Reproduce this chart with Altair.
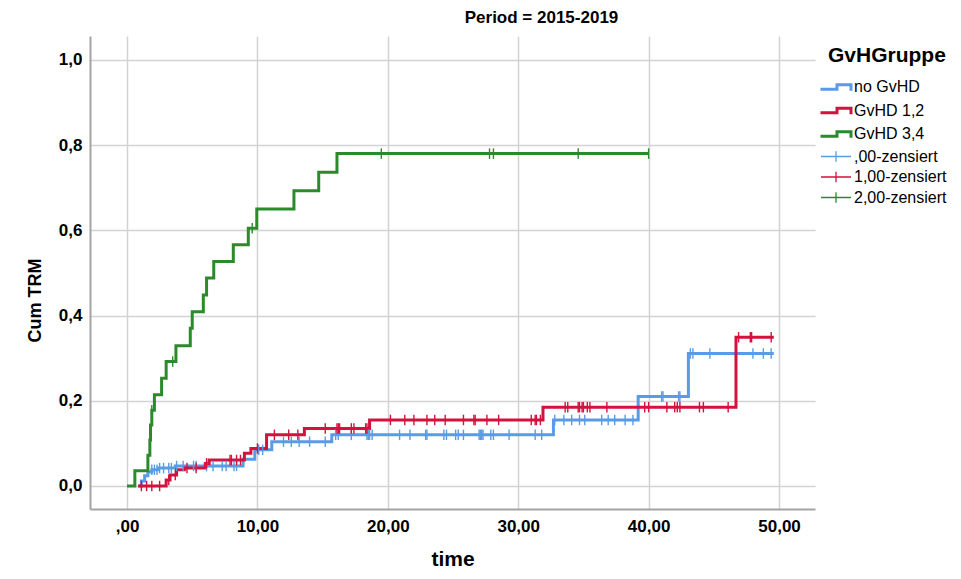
import altair as alt
import pandas as pd

# ---- data ----
groups = ["no GvHD", "GvHD 1,2", "GvHD 3,4"]
cens_labels = [",00-zensiert", "1,00-zensiert", "2,00-zensiert"]
line_colors = ["#5b9be6", "#d4123e", "#2b8a2b"]
cens_colors = ["#5b9be6", "#d4123e", "#2b8a2b"]

# step functions: event times and cumulative TRM after each event
blue_t = [0.85, 1.1, 1.35, 1.6, 1.9, 2.4, 3.7, 8.9, 9.8, 11.1, 15.7, 32.7, 39.2, 43.05]
blue_c = [0.0, 0.012, 0.024, 0.033, 0.038, 0.042, 0.047, 0.063, 0.085, 0.104, 0.12, 0.155, 0.21, 0.311]
blue_end = 49.6

red_t = [0.85, 3.0, 3.3, 3.8, 4.4, 6.0, 6.3, 9.0, 9.5, 10.7, 13.6, 18.6, 31.9, 46.7]
red_c = [0.0, 0.014, 0.026, 0.038, 0.042, 0.053, 0.061, 0.077, 0.088, 0.12, 0.135, 0.155, 0.185, 0.349]
red_end = 49.6

green_t = [0.0, 0.6, 1.6, 1.75, 1.8, 1.9, 2.1, 2.65, 3.0, 3.75, 4.85, 5.0, 5.85, 6.1, 6.65,
           8.15, 9.3, 9.95, 12.8, 14.7, 16.1]
green_c = [0.0, 0.036, 0.072, 0.108, 0.143, 0.178, 0.214, 0.253, 0.292, 0.329, 0.37, 0.409,
           0.448, 0.488, 0.527, 0.566, 0.605, 0.65, 0.693, 0.736, 0.78]
green_end = 40.0

# censoring times
blue_cens = [1.9, 2.1, 2.3, 2.5, 2.8, 3.2, 3.4, 3.8, 4.3, 5.1, 5.3, 6.1, 6.6, 7.3, 7.6, 8.2, 8.4,
             10.1, 10.4, 12.0, 12.6, 13.2, 14.0, 15.2, 16.0, 16.2, 17.2, 18.4, 18.5, 18.6, 18.8,
             20.9, 21.7, 22.9, 23.0, 24.3, 24.5, 25.2, 25.4, 25.8, 27.0, 27.1, 27.2, 27.3, 27.9,
             28.1, 29.3, 31.3, 31.8, 32.8, 33.5, 34.1, 34.7, 35.1, 36.4, 36.9, 37.4, 38.2, 38.8,
             41.0, 41.1, 42.3, 42.4, 43.2, 43.4, 44.7, 48.0, 48.8, 49.4]
red_cens = [1.1, 1.5, 1.9, 2.5, 3.2, 3.7, 4.6, 5.3, 6.1, 7.9, 8.0, 8.4, 8.7, 10.0, 11.3, 12.4,
            13.1, 15.2, 16.1, 16.2, 16.3, 17.2, 17.4, 18.3, 18.4, 20.2, 21.3, 22.0, 23.0, 23.6,
            24.4, 25.8, 26.6, 26.7, 27.6, 28.5, 31.0, 31.3, 31.4, 31.7, 33.6, 33.8, 34.6, 34.7,
            34.9, 35.0, 35.3, 35.5, 36.8, 39.7, 40.0, 41.4, 42.0, 42.2, 42.4, 43.9, 44.2, 46.1,
            46.9, 47.8, 47.9, 49.4]
green_cens = [1.9, 3.5, 9.6, 19.5, 27.8, 28.1, 34.6, 40.0]

x_ticks = [0, 10, 20, 30, 40, 50]
y_ticks = [0.0, 0.2, 0.4, 0.6, 0.8, 1.0]

# ---- build tables ----
def step_value(ts, cs, t):
    v = cs[0]
    for ti, ci in zip(ts, cs):
        if ti <= t:
            v = ci
    return v

series = [(blue_t, blue_c, blue_end, blue_cens),
          (red_t, red_c, red_end, red_cens),
          (green_t, green_c, green_end, green_cens)]

line_rows, cens_rows = [], []
for g, cl, (ts, cs, end, cens) in zip(groups, cens_labels, series):
    for t, c in zip(ts, cs):
        line_rows.append({"time": t, "cum": c, "group": g})
    line_rows.append({"time": end, "cum": cs[-1], "group": g})
    for t in cens:
        cens_rows.append({"time": t, "cum": step_value(ts, cs, t), "label": cl})

df_lines = pd.DataFrame(line_rows)
df_cens = pd.DataFrame(cens_rows)
all_labels = groups + cens_labels
df_leg = pd.DataFrame({"leg": all_labels, "time": [-100.0] * 6, "cum": [-100.0] * 6})

FONT = "Liberation Sans"

step_path = "M-3.1,0.45 L0.2,0.45 L0.2,-0.45 L3.0,-0.45 L3.0,0.75"
cross_path = "M-3,0 L3,0 M0,-1.05 L0,1.05"

x_enc = alt.X("time:Q", title="time",
              scale=alt.Scale(domain=[-2.84, 52.76], nice=False, zero=False),
              axis=alt.Axis(values=x_ticks, grid=True, ticks=False,
                            labelExpr="datum.value == 0 ? ',00' : replace(format(datum.value, '.2f'), '.', ',')",
                            labelFont=FONT, labelFontSize=17, labelFontWeight="bold", labelColor="black",
                            labelPadding=9, titleFont=FONT, titleFontSize=21, titleFontWeight="bold",
                            titleColor="black", titlePadding=14))
y_enc = alt.Y("cum:Q", title="Cum TRM",
              scale=alt.Scale(domain=[-0.054, 1.056], nice=False, zero=False),
              axis=alt.Axis(values=y_ticks, grid=True, ticks=False,
                            labelExpr="replace(format(datum.value, '.1f'), '.', ',')",
                            labelFont=FONT, labelFontSize=17, labelFontWeight="bold", labelColor="black",
                            labelPadding=8, titleFont=FONT, titleFontSize=18, titleFontWeight="bold",
                            titleColor="black", titleX=-55, titleY=264, titleAngle=-90,
                            titleAlign="center", titleBaseline="middle"))

lines = alt.Chart(df_lines).mark_line(interpolate="step-after", strokeWidth=3, clip=True).encode(
    x=x_enc, y=y_enc,
    color=alt.Color("group:N", scale=alt.Scale(domain=groups, range=line_colors), legend=None),
)

cens = alt.Chart(df_cens).mark_point(shape="M0,-1L0,1", size=110, filled=False,
                                     strokeWidth=1.4, opacity=1, clip=True).encode(
    x="time:Q", y="cum:Q",
    color=alt.Color("label:N", scale=alt.Scale(domain=cens_labels, range=cens_colors), legend=None),
)

leg = alt.Legend(title="GvHGruppe", orient="none", legendX=738, legendY=9,
                 titleFont=FONT, titleFontSize=21, titleFontWeight="bold", titleColor="black",
                 titlePadding=13, labelFont=FONT, labelFontSize=16, labelColor="black",
                 labelOffset=10, symbolOffset=0, rowPadding=4.5, symbolSize=100)

legend_layer = alt.Chart(df_leg).mark_point(filled=False, opacity=1, clip=True).encode(
    x="time:Q", y="cum:Q",
    color=alt.Color("leg:N", scale=alt.Scale(domain=all_labels, range=line_colors + cens_colors),
                    legend=leg),
    shape=alt.Shape("leg:N", scale=alt.Scale(domain=all_labels,
                                             range=[step_path] * 3 + [cross_path] * 3), legend=leg),
    strokeWidth=alt.StrokeWidth("leg:N", scale=alt.Scale(type="ordinal", domain=all_labels,
                                                         range=[3, 3, 3, 1.3, 1.3, 1.3]), legend=leg),
)

chart = alt.layer(lines, cens, legend_layer).resolve_scale(
    color="independent", shape="independent", strokeWidth="independent"
).properties(
    width=725, height=473,
    title=alt.TitleParams("Period = 2015-2019", font=FONT, fontSize=17, fontWeight="bold",
                          color="black", anchor="middle", dx=89, offset=9),
    autosize=alt.AutoSizeParams(type="none"),
    padding={"left": 82, "top": 28, "right": 138, "bottom": 62},
).configure_view(stroke=None).configure_axis(
    gridColor="#d3d3d3", gridWidth=1.5, domainColor="#a3a3a3", domainWidth=2
)

chart.save("out.html", embed_options={"renderer": "svg", "actions": False})
